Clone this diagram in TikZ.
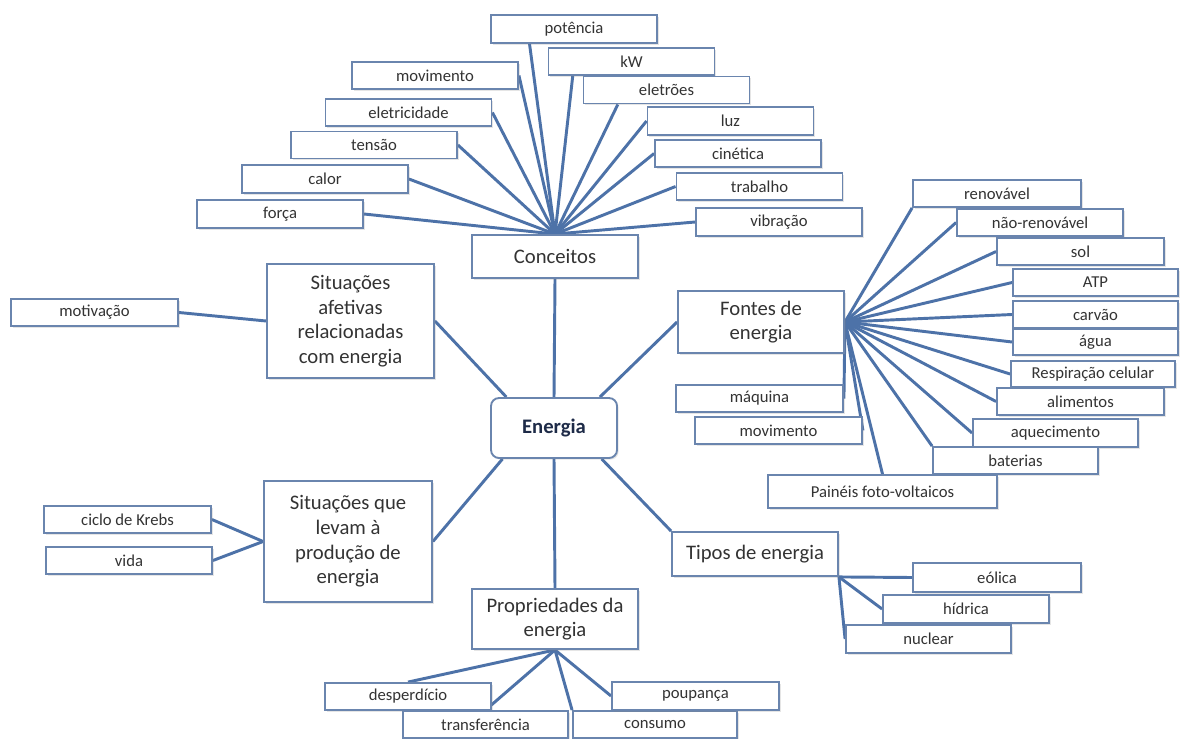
\documentclass[tikz,border=0pt]{standalone}
\usepackage{fontspec}
\setmainfont{Carlito}
\usetikzlibrary{calc,shadows,backgrounds}

\definecolor{linkblue}{HTML}{4D72A8}
\definecolor{boxline}{HTML}{6A85AE}
\definecolor{txt}{HTML}{333333}
\definecolor{hubtxt}{HTML}{1E2B48}

\tikzset{
  box/.style={draw=boxline, line width=1.4pt, fill=white, inner sep=0pt,
    text=txt, font=\fontsize{12.5}{15}\selectfont,
    minimum width=124.5pt, minimum height=20.25pt,
    drop shadow={shadow xshift=1.2pt, shadow yshift=-1.2pt, opacity=0.2}},
  topic/.style={box, align=center, font=\fontsize{15.5}{18.5}\selectfont},
  boxsize/.style 2 args={minimum width=#1*0.75pt, minimum height=#2*0.75pt},
  link/.style={draw=linkblue, line width=2.2pt},
}

\begin{document}
\begin{tikzpicture}[x=0.75pt, y=-0.75pt]
    \useasboundingbox (0,0) rectangle (1180,738);
    \begin{pgfonlayer}{background}
        \fill[white] (0,0) rectangle (1180,738);
    \end{pgfonlayer}

    % Central node
    \node[topic, boxsize={126}{60}, rounded corners=6pt, text=hubtxt,
          font=\fontsize{15.5}{18.5}\selectfont\bfseries] (energia) at (554,428) {Energia};

    % Main topics
    \node[topic, boxsize={166}{43}] (conc) at (555,256.5) {Conceitos};
    \node[topic, boxsize={166}{62}] (fontes) at (761,322) {Fontes de\\energia};
    \node[topic, boxsize={167}{114}] (afet) at (350.5,321) {Situações\\afetivas\\relacionadas\\com energia};
    \node[topic, boxsize={168}{121}] (levam) at (348,541.5) {Situações que\\levam à\\produção de\\energia};
    \node[topic, boxsize={166}{60}] (prop) at (555,619) {Propriedades da\\energia};
    \node[topic, boxsize={166}{44}] (tipos) at (755,554) {Tipos de energia};

    % Conceitos
    \node[box, boxsize={166}{28}] (potencia) at (574,29) {potência};
    \node[box] (kw) at (631.5,61.5) {kW};
    \node[box] (eletroes) at (666.5,90) {eletrões};
    \node[box] (movtop) at (435,75.5) {movimento};
    \node[box] (eletricidade) at (408.5,112.5) {eletricidade};
    \node[box] (tensao) at (374,145) {tensão};
    \node[box, boxsize={166}{28}] (calor) at (325,179) {calor};
    \node[box, boxsize={166}{28}] (forca) at (280,214) {força};
    \node[box, boxsize={166}{28}] (luz) at (730.5,121) {luz};
    \node[box] (cinetica) at (738,153.5) {cinética};
    \node[box] (trabalho) at (759.5,186.5) {trabalho};
    \node[box, boxsize={166}{28}] (vibracao) at (779,222) {vibração};

    % Fontes de energia
    \node[box, boxsize={168}{27}] (renov) at (997,193.5) {renovável};
    \node[box] (naorenov) at (1040,222.5) {não-renovável};
    \node[box, boxsize={167}{27}] (sol) at (1080.5,251.5) {sol};
    \node[box, boxsize={165}{27}] (atp) at (1095.5,282.5) {ATP};
    \node[box, boxsize={165}{27}] (carvao) at (1095.5,314.5) {carvão};
    \node[box, boxsize={165}{26}] (agua) at (1095.5,342) {água};
    \node[box, boxsize={164}{26}] (resp) at (1093,374) {Respiração celular};
    \node[box, boxsize={167}{27}] (alimentos) at (1080.5,401.5) {alimentos};
    \node[box, boxsize={165}{28}] (aquec) at (1055.5,433) {aquecimento};
    \node[box, boxsize={165}{27}] (baterias) at (1015.5,460.5) {baterias};
    \node[box, boxsize={229}{33}] (paineis) at (882.5,491.5) {Painéis foto-voltaicos};
    \node[box, boxsize={167}{27}] (maquina) at (759.5,398.5) {máquina};
    \node[box, boxsize={167}{27}] (movbot) at (778.5,430.5) {movimento};

    % Situações
    \node[box, boxsize={167}{27}] (motiv) at (94.5,312.5) {motivação};
    \node[box, boxsize={167}{27}] (krebs) at (127.5,519.5) {ciclo de Krebs};
    \node[box] (vida) at (129,560.5) {vida};

    % Propriedades da energia
    \node[box] (desp) at (408,696.5) {desperdício};
    \node[box, boxsize={165}{27}] (transf) at (485.5,724.5) {transferência};
    \node[box, boxsize={164}{27}] (consumo) at (655,724.5) {consumo};
    \node[box, boxsize={167}{28}] (poup) at (695.5,696) {poupança};

    % Tipos de energia
    \node[box, boxsize={168}{29}] (eolica) at (997,577.5) {eólica};
    \node[box, boxsize={166}{28}] (hidrica) at (966,609) {hídrica};
    \node[box, boxsize={165}{28}] (nuclear) at (928.5,639) {nuclear};

    \begin{pgfonlayer}{background}
        % Links to the central node
        \draw[link] (conc.south) -- (energia.north);
        \draw[link] (afet.east) -- (energia.147);
        \draw[link] (fontes.west) -- (energia.34);
        \draw[link] (levam.east) -- (energia.211);
        \draw[link] (energia.south) -- (prop.north);
        \draw[link] (energia.327) -- (tipos.north west);

        % Conceitos fan
        \foreach \n in {forca,calor,tensao,eletricidade,movtop}
            \draw[link] (conc.north) -- (\n.east);
        \foreach \n in {luz,cinetica,trabalho,vibracao}
            \draw[link] (conc.north) -- (\n.west);
        \draw[link] (conc.north) -- ($(potencia.south west)!0.235!(potencia.south east)$);
        \draw[link] (conc.north) -- ($(kw.south west)!0.15!(kw.south east)$);
        \draw[link] (conc.north) -- ($(eletroes.south west)!0.21!(eletroes.south east)$);

        % Fontes fan
        \draw[link] (fontes.east) -- (renov.south west);
        \foreach \n in {naorenov,sol,atp,carvao,agua,resp,alimentos,aquec}
            \draw[link] (fontes.east) -- (\n.west);
        \draw[link] (fontes.east) -- (baterias.north west);
        \draw[link] (fontes.east) -- (paineis.north);
        \draw[link] (fontes.east) -- (maquina.east);
        \draw[link] (fontes.east) -- (movbot.east);

        % Situações
        \draw[link] (motiv.east) -- (afet.west);
        \draw[link] (krebs.east) -- (levam.west);
        \draw[link] (vida.east) -- (levam.west);

        % Propriedades
        \draw[link] (prop.south) -- (desp.north);
        \draw[link] (prop.south) -- (transf.north);
        \draw[link] (prop.south) -- (consumo.north west);
        \draw[link] (prop.south) -- (poup.west);

        % Tipos
        \foreach \n in {eolica,hidrica,nuclear}
            \draw[link] (tipos.south east) -- (\n.west);
    \end{pgfonlayer}
\end{tikzpicture}
\end{document}
